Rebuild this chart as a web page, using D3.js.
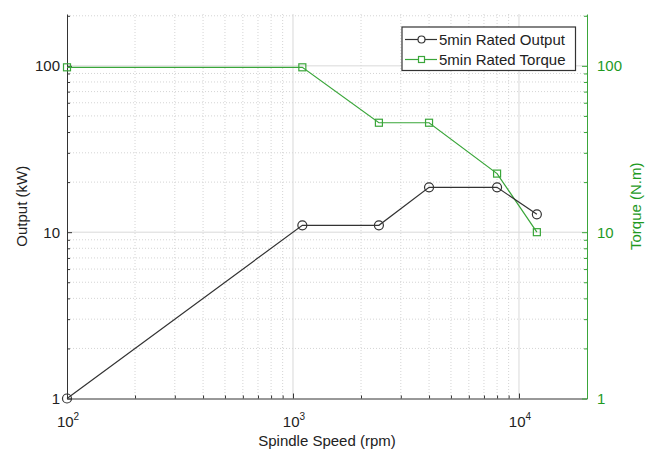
<!DOCTYPE html>
<html>
<head>
<meta charset="utf-8">
<script src="https://cdn.jsdelivr.net/npm/d3@7"></script>
<style>
  body { margin: 0; background: #fff; }
  text { font-family: "Liberation Sans", Arial, sans-serif; }
</style>
</head>
<body>
<script>
const speeds = [100, 1100, 2400, 4000, 8000, 12000];
const outputKW = [1, 11, 11, 18.6, 18.6, 12.8];
const torqueSpeeds = [100, 1100, 2400, 4000, 8000, 12000];
const torqueNm = [98, 98, 45.5, 45.5, 22.5, 10];
const xMajorTicks = [100, 1000, 10000];
const yMajorTicks = [1, 10, 100];
const seriesNames = ['5min Rated Output', '5min Rated Torque'];

const width = 657;
const height = 451;
const plotLeft = 67, plotRight = 587, plotTop = 14, plotBottom = 398.5;
const green = '#3aa63a';
const greenText = '#1f9a1f';
const dark = '#333';
const fontSize = 15;

const svg = d3.select('body')
              .append('svg')
              .attr('width', width)
              .attr('height', height);

const x = d3.scaleLog().domain([100, 20000]).range([plotLeft, plotRight]);
const y = d3.scaleLog().domain([1, 205]).range([plotBottom, plotTop]);
const y2 = d3.scaleLog().domain([1, 205]).range([plotBottom, plotTop]);

// minor values per decade
function minorValues(lo, hi) {
  let vals = [];
  for (let d = lo; d < hi; d *= 10) {
    for (let k = 2; k <= 9; k += 1) {
      if (d * k < hi) vals.push(d * k);
    }
  }
  return vals;
}
const xMinor = minorValues(100, 20000);
const yMinor = minorValues(1, 205);

// grid
const grid = svg.append('g');
grid.selectAll('.xminor').data(xMinor).enter().append('line')
    .attr('x1', d => x(d)).attr('x2', d => x(d))
    .attr('y1', plotTop).attr('y2', plotBottom)
    .attr('stroke', '#d4d4d4').attr('stroke-dasharray', '1,2');
grid.selectAll('.yminor').data(yMinor).enter().append('line')
    .attr('x1', plotLeft).attr('x2', plotRight)
    .attr('y1', d => y(d)).attr('y2', d => y(d))
    .attr('stroke', '#d4d4d4').attr('stroke-dasharray', '1,2');
grid.selectAll('.xmajor').data(xMajorTicks.slice(1)).enter().append('line')
    .attr('x1', d => x(d)).attr('x2', d => x(d))
    .attr('y1', plotTop).attr('y2', plotBottom)
    .attr('stroke', '#d9d9d9');
grid.selectAll('.ymajor').data(yMajorTicks.slice(1)).enter().append('line')
    .attr('x1', plotLeft).attr('x2', plotRight)
    .attr('y1', d => y(d)).attr('y2', d => y(d))
    .attr('stroke', '#d9d9d9');

// axes
const xAxis = svg.append('g').attr('transform', `translate(0,${plotBottom})`)
    .call(d3.axisBottom(x).tickValues(xMajorTicks.concat(xMinor)).tickSizeInner(-4).tickSizeOuter(0).tickFormat(''));
xAxis.select('.domain').attr('stroke', dark);
xAxis.selectAll('.tick line').attr('stroke', dark)
    .attr('y2', d => xMajorTicks.includes(d) ? -5 : -3);

const yAxis = svg.append('g').attr('transform', `translate(${plotLeft},0)`)
    .call(d3.axisLeft(y).tickValues(yMajorTicks.concat(yMinor)).tickSizeInner(-4).tickSizeOuter(0).tickFormat(''));
yAxis.select('.domain').attr('stroke', dark);
yAxis.selectAll('.tick line').attr('stroke', dark)
    .attr('x2', d => yMajorTicks.includes(d) ? 5 : 3);

const y2Axis = svg.append('g').attr('transform', `translate(${plotRight},0)`)
    .call(d3.axisRight(y2).tickValues(yMajorTicks.concat(yMinor)).tickSizeInner(-4).tickSizeOuter(0).tickFormat(''));
y2Axis.select('.domain').attr('stroke', green);
y2Axis.selectAll('.tick line').attr('stroke', green)
    .attr('x2', d => yMajorTicks.includes(d) ? -5 : -3);

// tick labels
svg.selectAll('.ylab').data(yMajorTicks).enter().append('text')
    .attr('x', plotLeft - 7).attr('y', d => y(d) + 5.5)
    .attr('text-anchor', 'end').attr('font-size', fontSize).attr('fill', '#222')
    .text(d => d);
svg.selectAll('.y2lab').data(yMajorTicks).enter().append('text')
    .attr('x', plotRight + 10).attr('y', d => y2(d) + 5.5)
    .attr('text-anchor', 'start').attr('font-size', fontSize).attr('fill', greenText)
    .text(d => d);
const xl = svg.selectAll('.xlab').data(xMajorTicks).enter().append('text')
    .attr('x', d => x(d) + 1).attr('y', 427)
    .attr('text-anchor', 'middle').attr('font-size', fontSize).attr('fill', '#222');
xl.append('tspan').text('10');
xl.append('tspan').attr('dy', -7).attr('font-size', 10).text(d => Math.round(Math.log10(d)));

// axis titles
svg.append('text').attr('x', (plotLeft + plotRight) / 2).attr('y', 446)
    .attr('text-anchor', 'middle').attr('font-size', fontSize).attr('fill', '#222')
    .text('Spindle Speed (rpm)');
svg.append('text').attr('transform', `translate(27,${(plotTop + plotBottom) / 2}) rotate(-90)`)
    .attr('text-anchor', 'middle').attr('font-size', fontSize).attr('fill', '#222')
    .text('Output (kW)');
svg.append('text').attr('transform', `translate(641,${(plotTop + plotBottom) / 2}) rotate(-90)`)
    .attr('text-anchor', 'middle').attr('font-size', fontSize).attr('fill', greenText)
    .text('Torque (N.m)');

// series
const outputData = speeds.map((s, i) => ({ s: s, v: outputKW[i] }));
const torqueData = torqueSpeeds.map((s, i) => ({ s: s, v: torqueNm[i] }));

svg.append('path').datum(torqueData)
    .attr('fill', 'none').attr('stroke', green).attr('stroke-width', 1.2)
    .attr('d', d3.line().x(d => x(d.s)).y(d => y2(d.v)));
svg.selectAll('.sq').data(torqueData).enter().append('rect')
    .attr('x', d => x(d.s) - 3.5).attr('y', d => y2(d.v) - 3.5)
    .attr('width', 7).attr('height', 7)
    .attr('fill', 'none').attr('stroke', green).attr('stroke-width', 1.2);

svg.append('path').datum(outputData)
    .attr('fill', 'none').attr('stroke', dark).attr('stroke-width', 1.2)
    .attr('d', d3.line().x(d => x(d.s)).y(d => y(d.v)));
svg.selectAll('.circ').data(outputData).enter().append('circle')
    .attr('cx', d => x(d.s)).attr('cy', d => y(d.v)).attr('r', 4.5)
    .attr('fill', 'none').attr('stroke', dark).attr('stroke-width', 1.2);

// legend
const legend = svg.append('g');
legend.append('rect').attr('x', 402).attr('y', 27).attr('width', 173.5).attr('height', 43.5)
    .attr('fill', '#fff').attr('stroke', dark).attr('stroke-width', 1.2);
const rows = [
  { name: seriesNames[0], color: dark, marker: 'circle', ly: 39.5 },
  { name: seriesNames[1], color: green, marker: 'square', ly: 59.5 }
];
rows.forEach(r => {
  legend.append('line').attr('x1', 405).attr('x2', 437).attr('y1', r.ly).attr('y2', r.ly)
      .attr('stroke', r.color).attr('stroke-width', 1.2);
  if (r.marker === 'circle') {
    legend.append('circle').attr('cx', 421.5).attr('cy', r.ly).attr('r', 3.5)
        .attr('fill', '#fff').attr('stroke', r.color).attr('stroke-width', 1.2);
  } else {
    legend.append('rect').attr('x', 418.5).attr('y', r.ly - 3).attr('width', 6).attr('height', 6)
        .attr('fill', '#fff').attr('stroke', r.color).attr('stroke-width', 1.2);
  }
  legend.append('text').attr('x', 439).attr('y', r.ly + 5.5)
      .attr('font-size', fontSize).attr('fill', '#222').text(r.name);
});
</script>
</body>
</html>
